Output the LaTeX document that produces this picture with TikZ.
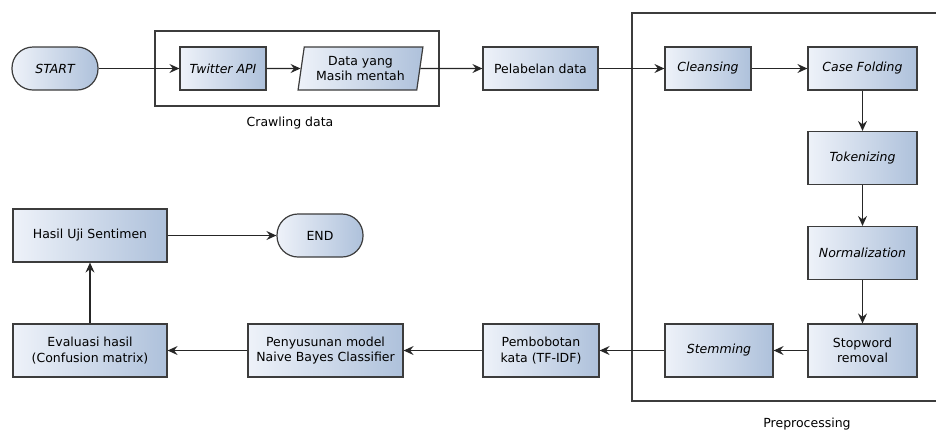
\documentclass[tikz,border=0pt]{standalone}
\usepackage{fontspec}
\setmainfont{DejaVu Sans}
\usetikzlibrary{arrows.meta,shapes.geometric}

\definecolor{boxL}{HTML}{EEF2F9}
\definecolor{boxR}{HTML}{AEC1DB}
\definecolor{rim}{HTML}{3C3C3C}

\tikzset{
  proc/.style={draw=rim, line width=1.2pt, left color=boxL, right color=boxR,
    minimum height=43pt, inner sep=2pt, align=center,
    font=\fontsize{12.5}{15.5}\selectfont},
  tall/.style={proc, minimum height=53pt},
  term/.style={proc, rounded corners=21pt, minimum width=86pt},
  io/.style={proc, trapezium, trapezium left angle=80, trapezium right angle=100,
    trapezium stretches=true, minimum width=125pt},
  group/.style={draw=rim, line width=1.2pt},
  flow/.style={-{Stealth[length=10pt,width=9pt,inset=3.5pt]}, line width=1.1pt, draw=black!85},
  lbl/.style={font=\fontsize{12.5}{15.5}\selectfont, inner sep=0pt}
}

\begin{document}
\begin{tikzpicture}[x=1pt,y=-1pt]
\useasboundingbox (0,0) rectangle (936,432);

% groups
\node[group, minimum width=284pt, minimum height=75pt] (crawl) at (297,68.5) {};
\node[lbl] (crawlLbl) at (290,123) {Crawling data};
\node[group, minimum width=320pt, minimum height=388pt] (prep) at (792,207) {};
\node[lbl] (prepLbl) at (807,424) {Preprocessing};

% top row
\node[term] (start) at (55,68.5) {\itshape START};
\node[proc, minimum width=86pt] (api) at (223,68.5) {\itshape Twitter API};
\node[io] (raw) at (360.5,68.5) {Data yang\\Masih mentah};
\node[proc, minimum width=115pt] (label) at (540.5,68.5) {Pelabelan data};
\node[proc, minimum width=86pt] (clean) at (708,68.5) {\itshape Cleansing};
\node[proc, minimum width=109pt] (fold) at (862.5,68.5) {\itshape Case Folding};

% right column
\node[tall, minimum width=109pt] (token) at (862.5,158) {\itshape Tokenizing};
\node[tall, minimum width=109pt] (norm) at (862.5,253) {\itshape Normalization};
\node[tall, minimum width=109pt] (stop) at (862.5,350.5) {Stopword\\removal};

% bottom row
\node[tall, minimum width=108pt] (stem) at (719,350.5) {\itshape Stemming};
\node[tall, minimum width=116pt] (tfidf) at (541,350.5) {Pembobotan\\kata (TF-IDF)};
\node[tall, minimum width=155pt] (nbc) at (325.5,350.5) {Penyusunan model\\Naive Bayes Classifier};
\node[tall, minimum width=154pt] (eval) at (90,350.5) {Evaluasi hasil\\(Confusion matrix)};
\node[tall, minimum width=154pt] (hasil) at (90,235.5) {Hasil Uji Sentimen};
\node[term] (end) at (320,235.5) {END};

\draw[flow] (start) -- (api);
\draw[flow] (api) -- (raw);
\draw[flow] (raw) -- (label);
\draw[flow] (label) -- (clean);
\draw[flow] (clean) -- (fold);
\draw[flow] (fold) -- (token);
\draw[flow] (token) -- (norm);
\draw[flow] (norm) -- (stop);
\draw[flow] (stop) -- (stem);
\draw[flow] (stem) -- (tfidf);
\draw[flow] (tfidf) -- (nbc);
\draw[flow] (nbc) -- (eval);
\draw[flow] (eval) -- (hasil);
\draw[flow] (hasil) -- (end);
\end{tikzpicture}
\end{document}
